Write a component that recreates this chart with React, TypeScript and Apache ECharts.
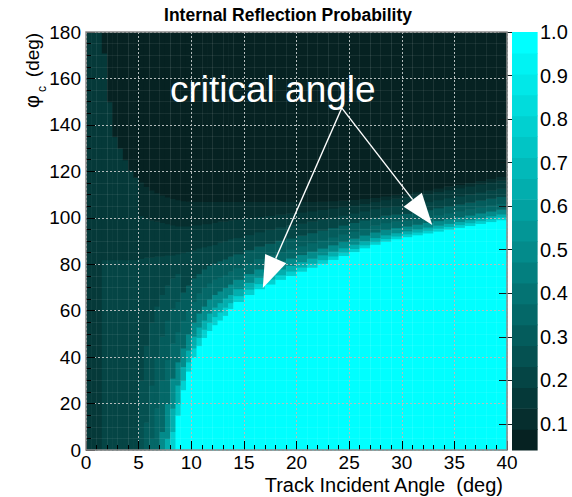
import React, { useEffect, useRef } from "react";
import * as echarts from "echarts";

// Track incident angle bin edges (deg): half-degree bins up to 14, then one-degree bins.
const THETA_EDGES = [
  0, 0.5, 1, 1.5, 2, 2.5, 3, 3.5, 4, 4.5, 5, 5.5, 6, 6.5, 7, 7.5, 8, 8.5, 9, 9.5,
  10, 10.5, 11, 11.5, 12, 12.5, 13, 13.5, 14, 15, 16, 17, 18, 19, 20, 21, 22, 23,
  24, 25, 26, 27, 28, 29, 30, 31, 32, 33, 34, 35, 36, 37, 38, 39, 40,
];

// phi_c axis range (deg)
const PHI_RANGE = [0, 180];

// For each theta bin: [phiStart, probability, phiStart, probability, ...].
// A band runs from its phiStart up to the next one (the last one up to 180).
const REFLECTION_PROFILES = [
  [0, 0.16],
  [0, 0.16],
  [0, 0.16],
  [0, 0.21, 82, 0.16, 171, 0.06],
  [0, 0.21, 82, 0.16, 150, 0.06],
  [0, 0.21, 82, 0.16, 135, 0.06],
  [0, 0.21, 82, 0.16, 130, 0.06],
  [0, 0.21, 82, 0.16, 125, 0.06],
  [0, 0.21, 82, 0.16, 120.5, 0.06],
  [0, 0.21, 82, 0.16, 117.5, 0.06],
  [0, 0.25, 30, 0.21, 82.5, 0.16, 101, 0.12, 115.5, 0.06],
  [0, 0.29, 12, 0.25, 45, 0.21, 83, 0.16, 100, 0.12, 113.5, 0.06],
  [0, 0.37, 5, 0.29, 28, 0.25, 55, 0.21, 83, 0.16, 99, 0.12, 112, 0.06],
  [0, 0.37, 18, 0.29, 40, 0.25, 62, 0.21, 83.5, 0.16, 98.5, 0.12, 110.8, 0.06],
  [0, 0.48, 8, 0.37, 30, 0.29, 49, 0.25, 67, 0.21, 83.5, 0.16, 98, 0.12, 109.8, 0.06],
  [0, 0.62, 5, 0.48, 20, 0.37, 39, 0.29, 56, 0.25, 71, 0.21, 84, 0.16, 97.5, 0.12, 109, 0.06],
  [0, 0.8, 8, 0.62, 18, 0.48, 31, 0.37, 46, 0.29, 61, 0.25, 74, 0.21, 84, 0.16, 97, 0.12, 108.3, 0.06],
  [0, 1, 15, 0.8, 20, 0.62, 28, 0.48, 38, 0.37, 51, 0.29, 64, 0.25, 76, 0.21, 84.5, 0.16, 96.5, 0.12, 107.8, 0.06],
  [0, 1, 26, 0.8, 30, 0.62, 36, 0.48, 44, 0.37, 56, 0.29, 68, 0.21, 85, 0.16, 96.5, 0.12, 107.4, 0.06],
  [0, 1, 34, 0.8, 38, 0.62, 43, 0.48, 50, 0.37, 60.5, 0.29, 71, 0.21, 85.5, 0.16, 96.5, 0.12, 107.2, 0.06],
  [0, 1, 40, 0.8, 44, 0.62, 49, 0.48, 55, 0.37, 64, 0.29, 74, 0.21, 86, 0.16, 97, 0.12, 107, 0.06],
  [0, 1, 45, 0.8, 48.5, 0.62, 53, 0.48, 59, 0.37, 67.5, 0.29, 76, 0.21, 87, 0.16, 97, 0.12, 107, 0.06],
  [0, 1, 48.5, 0.8, 52, 0.62, 56, 0.48, 62, 0.37, 70, 0.29, 78, 0.21, 87.5, 0.16, 97.5, 0.12, 107, 0.06],
  [0, 1, 51.5, 0.8, 55, 0.62, 59, 0.48, 65, 0.37, 72, 0.29, 79.5, 0.21, 88, 0.16, 97.5, 0.12, 107, 0.06],
  [0, 1, 54, 0.8, 57.5, 0.62, 61.5, 0.48, 67, 0.37, 73.5, 0.29, 80.5, 0.21, 88.5, 0.16, 98, 0.12, 107, 0.06],
  [0, 1, 56, 0.8, 59.5, 0.62, 63.5, 0.48, 68.5, 0.37, 74.5, 0.29, 81.5, 0.21, 89.5, 0.16, 98.5, 0.12, 107, 0.06],
  [0, 1, 58, 0.8, 61.5, 0.62, 65.5, 0.48, 70, 0.37, 75.5, 0.29, 82.3, 0.21, 90, 0.16, 98.5, 0.12, 107, 0.06],
  [0, 1, 61, 0.8, 63.5, 0.62, 67, 0.48, 71.5, 0.37, 77, 0.29, 83.5, 0.21, 91, 0.16, 99, 0.12, 107, 0.06],
  [0, 1, 64, 0.8, 66.5, 0.62, 69.5, 0.48, 73.5, 0.37, 78.5, 0.29, 84.5, 0.22, 91.5, 0.16, 99.5, 0.12, 107, 0.06],
  [0, 1, 67, 0.8, 69.3, 0.62, 72.2, 0.48, 76, 0.37, 80.7, 0.29, 86.3, 0.22, 92.8, 0.16, 100, 0.12, 107, 0.06],
  [0, 1, 69.5, 0.8, 71.7, 0.62, 74.4, 0.48, 78, 0.37, 82.5, 0.29, 87.8, 0.22, 94, 0.16, 100.5, 0.12, 107, 0.06],
  [0, 1, 71.5, 0.8, 73.6, 0.62, 76.2, 0.48, 79.6, 0.37, 83.9, 0.29, 89, 0.22, 95, 0.16, 101, 0.12, 107, 0.06],
  [0, 1, 73.5, 0.8, 75.5, 0.62, 78, 0.48, 81.3, 0.37, 85.4, 0.29, 90.3, 0.22, 96, 0.16, 101.5, 0.12, 107, 0.06],
  [0, 1, 75.2, 0.8, 77.1, 0.62, 79.5, 0.48, 82.7, 0.37, 86.6, 0.29, 91.3, 0.22, 96.8, 0.16, 102, 0.12, 107, 0.06],
  [0, 1, 77, 0.8, 78.8, 0.62, 81.1, 0.48, 84.2, 0.37, 88, 0.29, 92.5, 0.22, 97.6, 0.16, 102.5, 0.12, 107, 0.06],
  [0, 1, 78.7, 0.8, 80.4, 0.62, 82.6, 0.48, 85.6, 0.37, 89.3, 0.29, 93.6, 0.22, 98.5, 0.16, 103, 0.12, 107, 0.06],
  [0, 1, 80.4, 0.8, 82, 0.62, 84.1, 0.48, 87, 0.37, 90.5, 0.29, 94.7, 0.22, 99.4, 0.16, 103.6, 0.12, 107.2, 0.06],
  [0, 1, 82.1, 0.8, 83.6, 0.62, 85.6, 0.48, 88.4, 0.37, 91.8, 0.29, 95.8, 0.22, 100.3, 0.16, 104.2, 0.12, 107.4, 0.06],
  [0, 1, 83.8, 0.8, 85.2, 0.62, 87.1, 0.48, 89.8, 0.37, 93, 0.29, 96.9, 0.22, 101.2, 0.16, 104.8, 0.12, 107.6, 0.06],
  [0, 1, 85.5, 0.8, 86.8, 0.62, 88.6, 0.48, 91.2, 0.37, 94.3, 0.29, 98, 0.22, 102.1, 0.16, 105.5, 0.12, 107.9, 0.06],
  [0, 1, 87.1, 0.8, 88.4, 0.62, 90.1, 0.48, 92.6, 0.37, 95.6, 0.29, 99.1, 0.22, 103, 0.16, 106.2, 0.12, 108.3, 0.06],
  [0, 1, 88.6, 0.8, 89.8, 0.62, 91.5, 0.48, 93.9, 0.37, 96.8, 0.29, 100.2, 0.22, 103.9, 0.16, 107, 0.12, 108.8, 0.06],
  [0, 1, 89.9, 0.8, 91.1, 0.62, 92.7, 0.48, 95, 0.37, 97.9, 0.29, 101.1, 0.22, 104.6, 0.16, 107.8, 0.12, 109.4, 0.06],
  [0, 1, 91, 0.8, 92.2, 0.62, 93.6, 0.48, 95.8, 0.37, 98.5, 0.29, 101.6, 0.22, 105.1, 0.16, 108.4, 0.12, 110, 0.06],
  [0, 1, 91.9, 0.8, 93.1, 0.62, 94.4, 0.48, 96.4, 0.37, 98.9, 0.29, 101.9, 0.22, 105.4, 0.16, 108.9, 0.12, 110.5, 0.06],
  [0, 1, 92.7, 0.8, 93.9, 0.62, 95.2, 0.48, 97.2, 0.37, 99.7, 0.29, 102.7, 0.22, 106.2, 0.16, 109.7, 0.12, 111.2, 0.06],
  [0, 1, 93.5, 0.8, 94.7, 0.62, 96, 0.48, 98, 0.37, 100.5, 0.29, 103.5, 0.22, 107, 0.16, 110.5, 0.12, 112, 0.06],
  [0, 1, 94.3, 0.8, 95.5, 0.62, 96.8, 0.48, 98.8, 0.37, 101.3, 0.29, 104.3, 0.22, 107.8, 0.16, 111.3, 0.12, 112.8, 0.06],
  [0, 1, 95.1, 0.8, 96.3, 0.62, 97.6, 0.48, 99.6, 0.37, 102.1, 0.29, 105.1, 0.22, 108.6, 0.16, 112.1, 0.12, 113.6, 0.06],
  [0, 1, 95.9, 0.8, 97.1, 0.62, 98.4, 0.48, 100.4, 0.37, 102.9, 0.29, 105.9, 0.22, 109.4, 0.16, 112.9, 0.12, 114.4, 0.06],
  [0, 1, 96.7, 0.8, 97.9, 0.62, 99.2, 0.48, 101.2, 0.37, 103.7, 0.29, 106.7, 0.22, 110.2, 0.16, 113.7, 0.12, 115.2, 0.06],
  [0, 1, 97.6, 0.8, 98.8, 0.62, 100.1, 0.48, 102.1, 0.37, 104.6, 0.29, 107.6, 0.22, 111.1, 0.16, 114.6, 0.12, 116.1, 0.06],
  [0, 1, 98.4, 0.8, 99.6, 0.62, 100.9, 0.48, 102.9, 0.37, 105.4, 0.29, 108.4, 0.22, 111.9, 0.16, 115.4, 0.12, 117, 0.06],
  [0, 1, 99.2, 0.8, 100.4, 0.62, 101.7, 0.48, 103.7, 0.37, 106.2, 0.29, 109.2, 0.22, 112.7, 0.16, 116.2, 0.12, 117.8, 0.06],
];

// Palette contour levels (20 bands) and their colours
const BAND_EDGES = [
  0.04, 0.088, 0.136, 0.184, 0.232, 0.28, 0.328, 0.376, 0.424, 0.472, 0.52,
  0.568, 0.616, 0.664, 0.712, 0.76, 0.808, 0.856, 0.904, 0.952, 1.0,
];
const BAND_COLORS = [
  "#062222", "#062e2e", "#053939", "#054545", "#055151", "#045c5c", "#046868",
  "#047373", "#037f7f", "#038b8b", "#039696", "#02a2a2", "#02aeae", "#02b9b9",
  "#01c5c5", "#01d0d0", "#01dcdc", "#01e8e8", "#00f3f3", "#00ffff",
];
const COLORBAR_TICKS = [0.1, 0.2, 0.3, 0.4, 0.5, 0.6, 0.7, 0.8, 0.9, 1.0];

// Annotation anchor points in (theta, phi) coordinates
const ARROW_FROM = [24.3, 147.3];
const ARROW_TIPS = [
  [16.8, 69.8],
  [32.9, 96.9],
];

const FONT = '"Liberation Sans", Arial, Helvetica, sans-serif';

function buildCells() {
  const cells: number[][] = [];
  REFLECTION_PROFILES.forEach((prof, i) => {
    for (let k = 0; k < prof.length; k += 2) {
      const y0 = prof[k];
      const v = prof[k + 1];
      const y1 = k + 2 < prof.length ? prof[k + 2] : PHI_RANGE[1];
      cells.push([THETA_EDGES[i], THETA_EDGES[i + 1], y0, y1, v]);
    }
  });
  return cells;
}

function buildColorbar() {
  const rows: number[][] = [];
  for (let i = 0; i < BAND_COLORS.length; i++) {
    const lo = BAND_EDGES[i];
    const hi = BAND_EDGES[i + 1];
    rows.push([0, 1, lo, hi, (lo + hi) / 2]);
  }
  return rows;
}

const renderRect = (params: any, api: any) => {
  const a = api.coord([api.value(0), api.value(2)]);
  const b = api.coord([api.value(1), api.value(3)]);
  return {
    type: "rect",
    shape: {
      x: a[0],
      y: b[1],
      width: b[0] - a[0] + 0.6,
      height: a[1] - b[1] + 0.6,
    },
    style: { fill: api.visual("color") },
  };
};

function textEl(text: string, x: number, y: number, size: number, opts: any = {}) {
  const align = opts.align || "center";
  return {
    type: "text",
    x,
    y,
    rotation: opts.rotation || 0,
    z: 100,
    style: {
      text,
      fill: opts.fill || "#000",
      fontSize: size,
      fontFamily: FONT,
      fontWeight: opts.bold ? "bold" : "normal",
      align,
      verticalAlign: "middle",
      textAlign: align,
      textVerticalAlign: "middle",
    },
  };
}

export default function App() {
  const ref = useRef<HTMLDivElement>(null);

  useEffect(() => {
    if (!ref.current) return;
    const chart = echarts.init(ref.current, null, { renderer: "svg" });

    const pieces = BAND_COLORS.map((color, i) =>
      i === BAND_COLORS.length - 1
        ? { gte: BAND_EDGES[i], lte: BAND_EDGES[i + 1], color }
        : { gte: BAND_EDGES[i], lt: BAND_EDGES[i + 1], color }
    );

    const labelStyle = { fontFamily: FONT, fontSize: 19, color: "#000" };

    chart.setOption({
      animation: false,
      backgroundColor: "#ffffff",
      grid: [
        { left: 86, top: 32, width: 421, height: 418 },
        { left: 512, top: 32, width: 25, height: 418 },
      ],
      visualMap: {
        type: "piecewise",
        show: false,
        dimension: 4,
        seriesIndex: [0, 1],
        pieces,
      },
      xAxis: [
        {
          gridIndex: 0,
          type: "value",
          min: 0,
          max: 40,
          interval: 5,
          z: 10,
          axisLine: { show: false },
          axisTick: { show: true, inside: true, length: 9, lineStyle: { color: "#000" } },
          minorTick: { show: true, splitNumber: 5, length: 5, lineStyle: { color: "#000" } },
          splitLine: { show: true, lineStyle: { color: "#b4bcbc", type: [2, 2], width: 1 } },
          minorSplitLine: { show: true, lineStyle: { color: "rgba(255,255,255,0.07)", width: 1 } },
          axisLabel: { ...labelStyle, margin: 3, showMinLabel: true, showMaxLabel: true },
        },
        { gridIndex: 1, type: "value", min: 0, max: 1, show: false },
      ],
      yAxis: [
        {
          gridIndex: 0,
          type: "value",
          min: 0,
          max: 180,
          interval: 20,
          z: 10,
          axisLine: { show: false },
          axisTick: { show: true, inside: true, length: 9, lineStyle: { color: "#000" } },
          minorTick: { show: true, splitNumber: 4, length: 5, lineStyle: { color: "#000" } },
          splitLine: { show: true, lineStyle: { color: "#b4bcbc", type: [2, 2], width: 1 } },
          minorSplitLine: { show: true, lineStyle: { color: "rgba(255,255,255,0.07)", width: 1 } },
          axisLabel: { ...labelStyle, margin: 5, showMinLabel: true, showMaxLabel: true },
        },
        {
          gridIndex: 1,
          type: "value",
          min: 0.04,
          max: 1,
          position: "right",
          z: 10,
          axisLine: { show: false },
          splitLine: { show: false },
          axisTick: {
            show: true,
            inside: true,
            length: 13,
            customValues: COLORBAR_TICKS,
            lineStyle: { color: "#0c1e1e", width: 1 },
          },
          axisLabel: {
            ...labelStyle,
            fontSize: 20,
            margin: 3,
            customValues: COLORBAR_TICKS,
            formatter: (v: number) => v.toFixed(1),
          },
        },
      ],
      series: [
        {
          type: "custom",
          xAxisIndex: 0,
          yAxisIndex: 0,
          renderItem: renderRect,
          encode: { x: [0, 1], y: [2, 3] },
          data: buildCells(),
          silent: true,
        },
        {
          type: "custom",
          xAxisIndex: 1,
          yAxisIndex: 1,
          renderItem: renderRect,
          encode: { x: [0, 1], y: [2, 3] },
          data: buildColorbar(),
          silent: true,
        },
      ],
    });

    const toPx = (p: number[]) =>
      chart.convertToPixel({ xAxisIndex: 0, yAxisIndex: 0 } as any, p) as number[];

    const origin = toPx([THETA_EDGES[0], PHI_RANGE[0]]);
    const corner = toPx([THETA_EDGES[THETA_EDGES.length - 1], PHI_RANGE[1]]);

    const elements: any[] = [
      {
        type: "rect",
        z: 100,
        shape: {
          x: origin[0],
          y: corner[1],
          width: corner[0] - origin[0],
          height: origin[1] - corner[1],
        },
        style: { fill: "none", stroke: "#8c8c8c", lineWidth: 1.5 },
      },
      textEl("Internal Reflection Probability", 288, 14.6, 17.5, { bold: true }),
      textEl("Track Incident Angle  (deg)", 503, 485, 20, { align: "right" }),
      textEl("\u03c6", 32.4, 101.5, 20, { rotation: Math.PI / 2 }),
      textEl("c", 42, 89, 12, { rotation: Math.PI / 2 }),
      textEl("(deg)", 32.4, 55, 19, { rotation: Math.PI / 2 }),
      textEl("critical angle", 170, 89.5, 37, { align: "left", fill: "#ffffff" }),
    ];

    const start = toPx(ARROW_FROM);
    ARROW_TIPS.forEach((tipVal) => {
      const tip = toPx(tipVal);
      const dx = tip[0] - start[0];
      const dy = tip[1] - start[1];
      const len = Math.hypot(dx, dy);
      const ux = dx / len;
      const uy = dy / len;
      const headLen = 32;
      const halfW = 11.5;
      const bx = tip[0] - ux * headLen;
      const by = tip[1] - uy * headLen;
      elements.push({
        type: "line",
        z: 101,
        shape: { x1: start[0], y1: start[1], x2: bx, y2: by },
        style: { stroke: "#ffffff", lineWidth: 1.4 },
      });
      elements.push({
        type: "polygon",
        z: 101,
        shape: {
          points: [
            [tip[0], tip[1]],
            [bx - uy * halfW, by + ux * halfW],
            [bx + uy * halfW, by - ux * halfW],
          ],
        },
        style: { fill: "#ffffff" },
      });
    });

    chart.setOption({ graphic: { elements } });

    return () => chart.dispose();
  }, []);

  return (
    <div
      ref={ref}
      style={{ position: "fixed", left: 0, top: 0, width: 572, height: 497 }}
    />
  );
}
